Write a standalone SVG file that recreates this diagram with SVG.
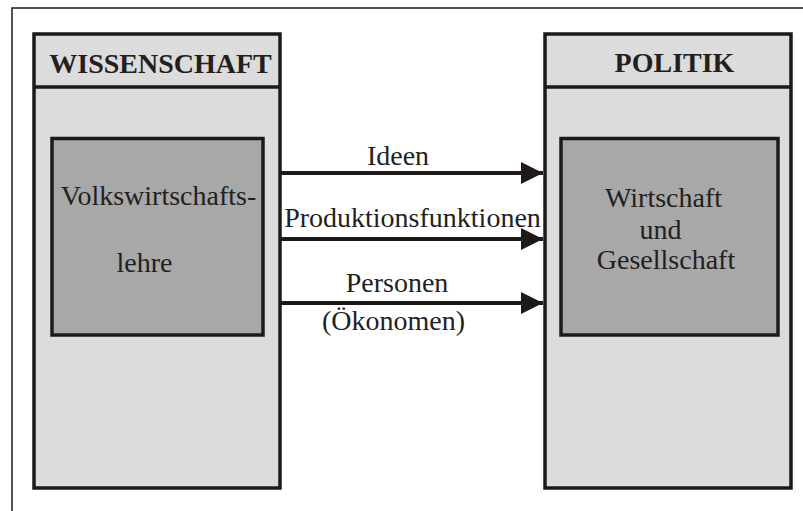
<svg xmlns="http://www.w3.org/2000/svg" width="803" height="511" viewBox="0 0 803 511">
<style>
.frame{fill:none;stroke:#1f1a17;stroke-width:1.5}
.outer{fill:#dcdcdc;stroke:#1f1a17;stroke-width:3.5}
.inner{fill:#a8a8a8;stroke:#1f1a17;stroke-width:3.5}
.hl{stroke:#1f1a17;stroke-width:3.5}
text{font-family:'Liberation Serif','DejaVu Serif',serif;font-size:28px;fill:#231f20;text-anchor:middle}
.b{font-weight:bold}
.conn{stroke:#1f1a17;stroke-width:4;fill:none}
</style>
<defs>
<marker id="ah" markerUnits="userSpaceOnUse" markerWidth="22" markerHeight="24" refX="22" refY="11" orient="auto">
<path d="M0,0 L22,11 L0,22 Z" fill="#1f1a17"/>
</marker>
</defs>
<rect class="frame" x="12" y="8" width="800" height="520"/>
<g id="wissenschaft">
<rect class="outer" x="34" y="34" width="246" height="454"/>
<line class="hl" x1="34" y1="87" x2="280" y2="87"/>
<text class="b" x="160.5" y="72.5" font-family="Liberation Serif, serif">WISSENSCHAFT</text>
</g>
<g id="vwl">
<rect class="inner" x="52" y="138.5" width="211" height="196.5"/>
<text x="158.5" y="205" font-family="Liberation Serif, serif">Volkswirtschafts-</text>
<text x="144.5" y="271.5" font-family="Liberation Serif, serif">lehre</text>
</g>
<g id="politik">
<rect class="outer" x="545" y="34" width="246" height="454"/>
<line class="hl" x1="545" y1="87" x2="791" y2="87"/>
<text class="b" x="674.5" y="72" font-family="Liberation Serif, serif">POLITIK</text>
</g>
<g id="wirtschaft">
<rect class="inner" x="561" y="138.5" width="217" height="196.5"/>
<text x="663.5" y="206.5" font-family="Liberation Serif, serif">Wirtschaft</text>
<text x="660.5" y="239" font-family="Liberation Serif, serif">und</text>
<text x="666" y="269" font-family="Liberation Serif, serif">Gesellschaft</text>
</g>
<g id="connectors">
<line class="conn" x1="281" y1="173" x2="543" y2="173" marker-end="url(#ah)"/>
<line class="conn" x1="281" y1="239" x2="543" y2="239" marker-end="url(#ah)"/>
<line class="conn" x1="281" y1="303" x2="543" y2="303" marker-end="url(#ah)"/>
<text x="398" y="165" font-family="Liberation Serif, serif">Ideen</text>
<text x="412.5" y="227" font-family="Liberation Serif, serif">Produktionsfunktionen</text>
<text x="397" y="292" font-family="Liberation Serif, serif">Personen</text>
<text x="393.5" y="330" font-family="Liberation Serif, serif">(Ökonomen)</text>
</g>
</svg>
